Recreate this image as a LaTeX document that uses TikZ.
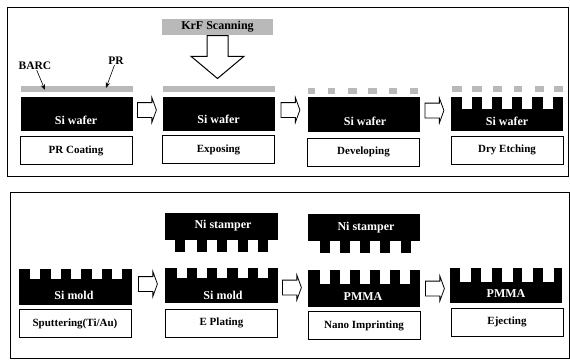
\documentclass[tikz,border=0pt]{standalone}
\usepackage{fontspec}
\setmainfont{Liberation Serif}
\usetikzlibrary{shapes.arrows, arrows.meta, positioning}
\definecolor{resistgray}{RGB}{185, 185, 185}
\definecolor{scangray}{RGB}{185, 185, 185}
\begin{document}
\begin{tikzpicture}[
    x=1pt, y=-1pt,
    panel/.style={rectangle, draw=black, line width=1pt, fill=white, inner sep=0pt, outer sep=0pt},
    block/.style={rectangle, fill=black, inner sep=0pt, outer sep=0pt, minimum width=112pt},
    blocktext/.style={text=white, font=\fontsize{12}{12}\selectfont\bfseries, inner sep=0pt},
    stepbox/.style={rectangle, draw=black, line width=0.6pt, fill=white, inner sep=0pt, minimum width=112pt, minimum height=28pt, font=\fontsize{11}{11}\selectfont\bfseries},
    resist/.style={rectangle, fill=resistgray, inner sep=0pt, minimum height=6pt},
    flow/.style={single arrow, draw=black, line width=0.8pt, fill=white, anchor=tail, inner sep=7pt, minimum height=19pt, single arrow head extend=5pt, single arrow tip angle=140},
    note/.style={font=\fontsize{11.5}{11.5}\selectfont\bfseries, inner sep=0pt},
    pointer/.style={->, >=Stealth, line width=0.6pt}
]
\useasboundingbox (0,0) rectangle (570,360);

% Panels
\node[panel, minimum width=561pt, minimum height=169pt] (toppanel) at (288,92) {};
\node[panel, minimum width=559pt, minimum height=166pt] (botpanel) at (289.5,275) {};

% Top row wafers
\node[block, minimum height=34pt] (wafer1) at (76.5,114) {};
\node[block, minimum height=34pt] (wafer2) at (218.5,114) {};
\node[block, minimum height=35pt] (wafer3) at (363.5,114.5) {};
\node[block, minimum height=34pt] (wafer4) at (507,114) {};
\foreach \nx in {462,482,502,522,543}
  \fill[white] (\nx,97) rectangle ++(10,12);
\node[blocktext] (wafertext1) at (76,120) {Si wafer};
\node[blocktext] (wafertext2) at (218.5,119) {Si wafer};
\node[blocktext] (wafertext3) at (365,121) {Si wafer};
\node[blocktext] (wafertext4) at (507,121) {Si wafer};

% Resist layers
\node[resist, minimum width=112pt] (coat1) at (76.5,88.5) {};
\node[resist, minimum width=112pt] (coat2) at (218.5,88.5) {};
\foreach \nx/\nw in {308/7,328/7,348/9,368/9,389/8,410/8}
  \fill[resistgray] (\nx,88) rectangle ++(\nw,6);
\foreach \nx/\nw in {452/10,472/10,493/9,514/8,535/9,554/9}
  \fill[resistgray] (\nx,86) rectangle ++(\nw,6);

% Top row labels
\node[stepbox] (coating) at (76,150.5) {PR Coating};
\node[stepbox] (exposing) at (218.5,149.5) {Exposing};
\node[stepbox] (developing) at (363.5,152) {Developing};
\node[stepbox] (etching) at (507,150) {Dry Etching};

% Scanning
\node[rectangle, fill=scangray, inner sep=0pt, minimum width=111pt, minimum height=16pt, font=\fontsize{12}{12}\selectfont\bfseries] (scan) at (217.5,27) {KrF Scanning};
\node[single arrow, draw=black, line width=1pt, fill=white, anchor=tail, shape border rotate=270, inner sep=10pt, minimum height=43pt, single arrow head extend=16pt, single arrow tip angle=100] (scanarrow) at (217.5,35) {};

% Layer notes
\node[note] (barc) at (35,66) {BARC};
\node[note] (prnote) at (116,61) {PR};
\coordinate (barctip) at (45,90);
\coordinate (prtip) at (106,88);
\draw[pointer] (barc) -- (barctip);
\draw[pointer] (prnote) -- (prtip);

% Bottom row molds
\node[block, minimum height=36pt, minimum width=113pt] (mold1) at (75.5,287) {};
\node[block, minimum height=35pt, minimum width=113pt] (mold2) at (221.5,285.5) {};
\node[block, minimum height=37pt] (pmma1) at (364,288.5) {};
\node[block, minimum height=35pt] (pmma2) at (506,285.5) {};
\foreach \nx in {30,51,71,92,112}
  \fill[white] (\nx,269) rectangle ++(10,10);
\foreach \nx in {177,197,217,238,258}
  \fill[white] (\nx,268) rectangle ++(10,10);
\foreach \nx in {320,340,360,380,400}
  \fill[white] (\nx,270) rectangle ++(10,14);
\foreach \nx in {460,481,502,522,543}
  \fill[white] (\nx,268) rectangle ++(10.5,14);
\node[blocktext] (moldtext1) at (74,295) {Si mold};
\node[blocktext] (moldtext2) at (223,295) {Si mold};
\node[blocktext] (pmmatext1) at (363,297) {PMMA};
\node[blocktext] (pmmatext2) at (506,294) {PMMA};

% Stampers
\node[block, minimum height=27pt, minimum width=113pt] (stamper1) at (221.5,226.5) {};
\node[block, minimum height=27pt] (stamper2) at (364,227.5) {};
\foreach \nx in {175,197,217,237.5,258}
  \fill[black] (\nx,240) rectangle ++(10,12);
\foreach \nx in {320,340,360,380,401}
  \fill[black] (\nx,241) rectangle ++(10,12);
\node[blocktext] (stampertext1) at (223,226) {Ni stamper};
\node[blocktext] (stampertext2) at (366,228) {Ni stamper};

% Bottom row labels
\node[stepbox] (sputter) at (75,323.5) {Sputtering(Ti/Au)};
\node[stepbox] (plating) at (221.5,323) {E Plating};
\node[stepbox] (imprint) at (364,325.5) {Nano Imprinting};
\node[stepbox] (eject) at (507,322) {Ejecting};

% Arrows
\node[flow] (flow1) at (137,110) {};
\node[flow] (flow2) at (280.5,110) {};
\node[flow] (flow3) at (424.5,110.5) {};
\node[flow] (flow4) at (138,284) {};
\node[flow] (flow5) at (282,287.5) {};
\node[flow] (flow6) at (425,288.5) {};
\end{tikzpicture}
\end{document}
